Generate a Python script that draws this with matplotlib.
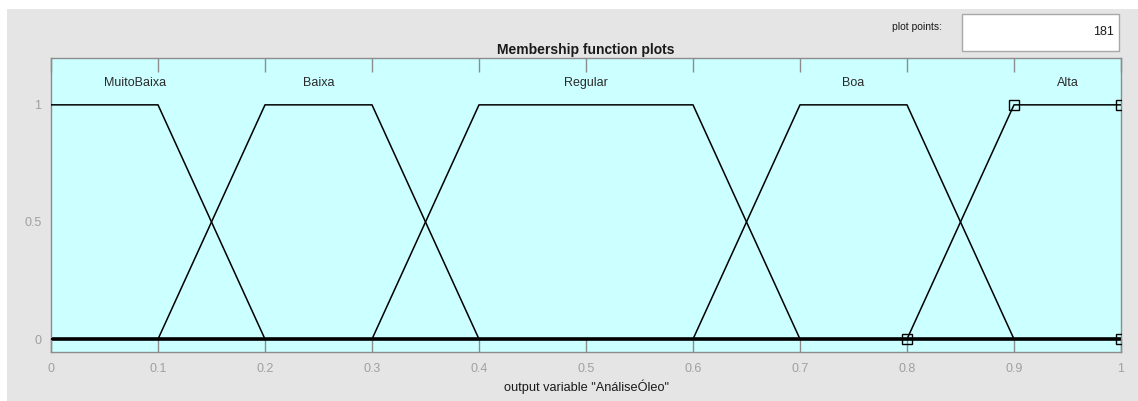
import numpy as np
import matplotlib.pyplot as plt
from matplotlib.patches import Rectangle

plt.rcParams['font.family'] = ['Liberation Sans', 'DejaVu Sans']

# membership functions (trapmf a, b, c, d) of output variable
mf_names = ["MuitoBaixa", "Baixa", "Regular", "Boa", "Alta"]
mf_params = [[0.0, 0.0, 0.1, 0.2],
             [0.1, 0.2, 0.3, 0.4],
             [0.3, 0.4, 0.6, 0.7],
             [0.6, 0.7, 0.8, 0.9],
             [0.8, 0.9, 1.0, 1.0]]
label_x = [0.079, 0.25, 0.50, 0.75, 0.95]
selected = 4  # Alta
n_points = 181
xticks = [0, 0.1, 0.2, 0.3, 0.4, 0.5, 0.6, 0.7, 0.8, 0.9, 1]
yticks = [0, 0.5, 1]


def trapmf(x, p):
    a, b, c, d = p
    y = np.zeros_like(x)
    up = (x >= a) & (x < b)
    y[up] = (x[up] - a) / (b - a)
    y[(x >= b) & (x <= c)] = 1.0
    dn = (x > c) & (x <= d)
    if d > c:
        y[dn] = (d - x[dn]) / (d - c)
    return y


W, H = 1138, 401
fig = plt.figure(figsize=(W / 100, H / 100), dpi=100, facecolor="white")
# grey panel background
fig.patches.append(Rectangle((7 / W, 0), 1, (H - 9) / H, transform=fig.transFigure,
                             facecolor="#e5e5e5", edgecolor="none", zorder=-10))

ax = fig.add_axes([51 / W, (H - 352) / H, (1121 - 51) / W, (352 - 58) / H])
ax.set_facecolor("#ccffff")

x = np.linspace(0, 1, n_points)
for i, p in enumerate(mf_params):
    ax.plot(x, trapmf(x, p), color="black", lw=1.1, zorder=3)
    ax.text(label_x[i], 1.095, mf_names[i], ha="center", va="center",
            fontsize=9, color="#2a2a2a")

# thick baseline where all MFs are zero
ax.axhline(0, color="black", lw=2.6, zorder=2)

p = mf_params[selected]
ax.plot([p[0], p[1], p[2], p[3]], [0, 1, 1, 0], ls="none", marker="s", ms=7,
        mfc="none", mec="black", mew=1, zorder=4, clip_on=True)

ax.set_xlim(0, 1)
ax.set_ylim(-0.055, 1.2)
ax.set_xticks(xticks)
ax.set_xticklabels([f"{v:g}" for v in xticks])
ax.set_yticks(yticks)
ax.set_yticklabels([f"{v:g}" for v in yticks])
ax.tick_params(axis="x", direction="in", length=10, width=1, color="#8c8c8c",
               labelcolor="#a0a0a0", labelsize=9, pad=8, top=True)
ax.tick_params(axis="y", direction="in", length=0, labelcolor="#a0a0a0",
               labelsize=9, pad=7)
for s in ax.spines.values():
    s.set_color("#8c8c8c")
    s.set_linewidth(1)

ax.set_title("Membership function plots", fontsize=10, fontweight="bold",
             color="#1a1a1a", pad=3)
ax.set_xlabel('output variable "AnáliseÓleo"', fontsize=9.2, color="#1a1a1a",
              labelpad=3)

# plot points box
fig.patches.append(Rectangle((962 / W, (H - 51) / H), (1119 - 962) / W, 37 / H,
                             transform=fig.transFigure, facecolor="white",
                             edgecolor="#a8a8a8", lw=1))
fig.text(942 / W, (H - 27) / H, "plot points:", ha="right", va="center",
         fontsize=7.5, color="#1a1a1a")
fig.text(1114 / W, (H - 32) / H, str(n_points), ha="right", va="center",
         fontsize=9, color="#1a1a1a")

fig.savefig("out.png", dpi=100, facecolor=fig.get_facecolor())
